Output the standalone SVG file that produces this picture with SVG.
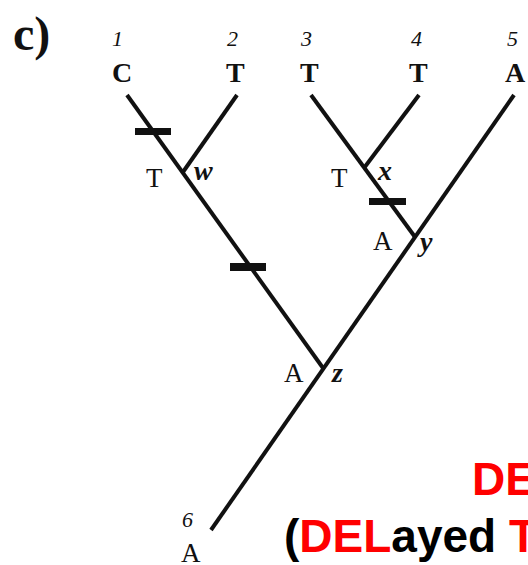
<svg xmlns="http://www.w3.org/2000/svg" width="528" height="565" viewBox="0 0 528 565">
<style>
.br{stroke:#111;stroke-width:4;stroke-linecap:butt;fill:none}
.bar{fill:#111}
.num{font-family:"Liberation Serif",serif;font-style:italic;font-size:22px;fill:#111}
.leaf{font-family:"Liberation Serif",serif;font-weight:bold;font-size:28px;fill:#111}
.st{font-family:"Liberation Serif",serif;font-size:27px;fill:#111}
.nd{font-family:"Liberation Serif",serif;font-style:italic;font-weight:bold;font-size:28px;fill:#111}
.red{fill:#ff0000}
.sans{font-family:"Liberation Sans",Arial,sans-serif;font-weight:bold}
</style>
<rect width="528" height="565" fill="#fff"/>
<text x="13" y="50" font-family="Liberation Serif,serif" font-weight="bold" font-size="48" fill="#111">c)</text>
<g id="connectors">
<line class="br" x1="127" y1="95" x2="323" y2="368"/>
<line class="br" x1="237" y1="95" x2="183" y2="172"/>
<line class="br" x1="311" y1="95" x2="415" y2="237"/>
<line class="br" x1="419" y1="95" x2="364" y2="168"/>
<line class="br" x1="514" y1="95" x2="211" y2="530"/>
<rect class="bar" x="135" y="128" width="36" height="7"/>
<rect class="bar" x="230" y="263" width="36" height="8"/>
<rect class="bar" x="369" y="198" width="37" height="7"/>
</g>
<g id="leaf1"><text class="num" x="112" y="46">1</text><text class="leaf" x="112" y="82">C</text></g>
<g id="leaf2"><text class="num" x="227" y="46">2</text><text class="leaf" x="226" y="82">T</text></g>
<g id="leaf3"><text class="num" x="301" y="46">3</text><text class="leaf" x="300" y="82">T</text></g>
<g id="leaf4"><text class="num" x="411" y="46">4</text><text class="leaf" x="409" y="82">T</text></g>
<g id="leaf5"><text class="num" x="507" y="46">5</text><text class="leaf" x="505" y="82">A</text></g>
<g id="leaf6"><text class="num" x="182" y="527">6</text><text class="st" x="181" y="562">A</text></g>
<g id="node-w"><text class="st" x="146" y="187">T</text><text class="nd" x="194" y="180">w</text></g>
<g id="node-x"><text class="st" x="331" y="187">T</text><text class="nd" x="378" y="180">x</text></g>
<g id="node-y"><text class="st" x="373" y="250">A</text><text class="nd" x="420" y="251">y</text></g>
<g id="node-z"><text class="st" x="284" y="382">A</text><text class="nd" x="332" y="382">z</text></g>
<g id="title">
<text class="sans red" x="472" y="495" font-size="46">DE</text>
<text class="sans" x="284" y="552" font-size="46" fill="#000">(<tspan class="red">DEL</tspan>ayed <tspan class="red">T</tspan></text>
</g>
</svg>
